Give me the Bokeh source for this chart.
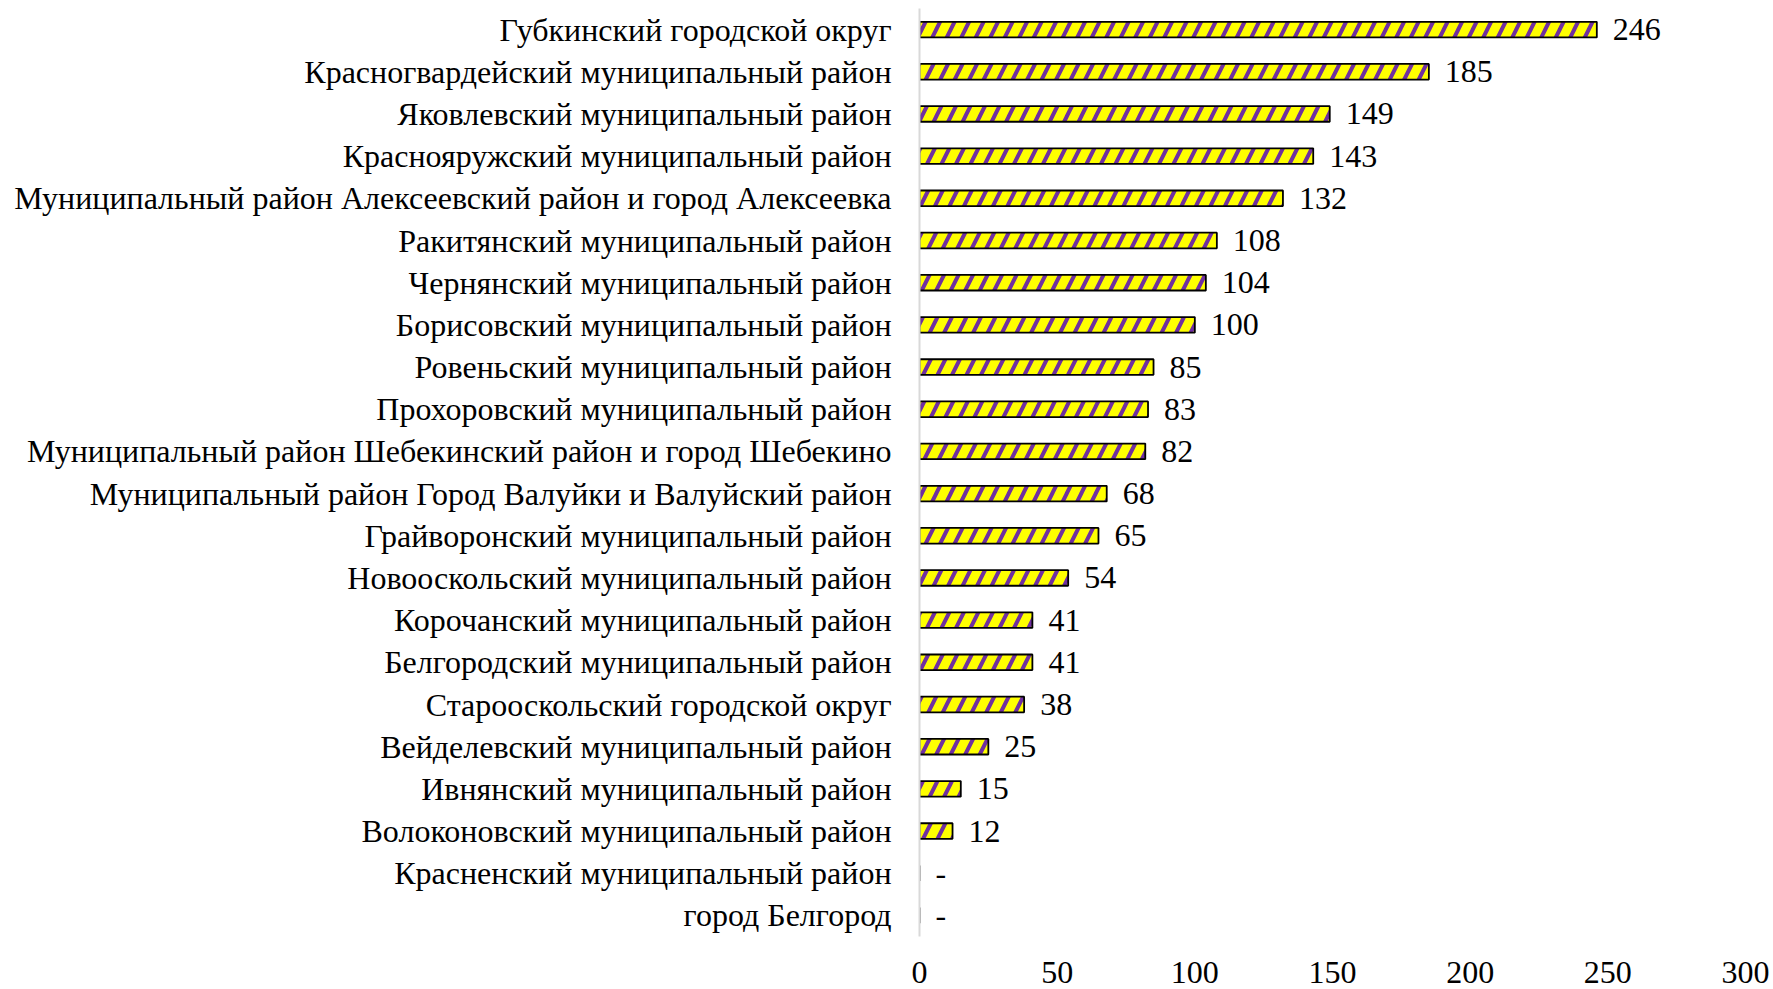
from bokeh.plotting import figure
from bokeh.models import ColumnDataSource, FactorRange, FixedTicker
from bokeh.core.properties import value
from bokeh.embed import file_html
from bokeh.resources import INLINE

districts = [
    "Губкинский городской округ",
    "Красногвардейский муниципальный район",
    "Яковлевский муниципальный район",
    "Краснояружский муниципальный район",
    "Муниципальный район Алексеевский район и город Алексеевка",
    "Ракитянский муниципальный район",
    "Чернянский муниципальный район",
    "Борисовский муниципальный район",
    "Ровеньский муниципальный район",
    "Прохоровский муниципальный район",
    "Муниципальный район Шебекинский район и город Шебекино",
    "Муниципальный район Город Валуйки и Валуйский район",
    "Грайворонский муниципальный район",
    "Новооскольский муниципальный район",
    "Корочанский муниципальный район",
    "Белгородский муниципальный район",
    "Старооскольский городской округ",
    "Вейделевский муниципальный район",
    "Ивнянский муниципальный район",
    "Волоконовский муниципальный район",
    "Красненский муниципальный район",
    "город Белгород",
]
values = [246, 185, 149, 143, 132, 108, 104, 100, 85, 83, 82, 68, 65, 54, 41, 41, 38, 25, 15, 12, 0, 0]
x_ticks = [0, 50, 100, 150, 200, 250, 300]

labels = [str(v) if v > 0 else "-" for v in values]
src = ColumnDataSource(dict(d=districts, v=values, lab=labels))

FONT = "Liberation Serif"
FS = "32px"

p = figure(
    y_range=FactorRange(*list(reversed(districts))),
    x_range=(0, 300),
    width=1773, height=989,
    output_backend="svg", toolbar_location=None,
    min_border_left=919, min_border_right=28, min_border_top=8, min_border_bottom=53,
)
p.hbar(y="d", right="v", left=0, height=0.37, source=src,
       fill_color="#FFFF00", line_color="black", line_width=1.8,
       hatch_pattern="right_diagonal_line", hatch_color="#7030A0",
       hatch_weight=4, hatch_scale=29)
p.text(x="v", y="d", text="lab", source=src, x_offset=16,
       text_baseline="middle", text_align="left",
       text_font=value(FONT), text_font_size=FS, text_color="black")

p.outline_line_color = None
p.grid.grid_line_color = None
p.background_fill_color = "white"

p.xaxis.ticker = FixedTicker(ticks=x_ticks)
p.xaxis.axis_line_color = None
p.xaxis.major_tick_line_color = None
p.xaxis.minor_tick_line_color = None
p.xaxis.major_tick_out = 0
p.xaxis.major_tick_in = 0
p.xaxis.minor_tick_out = 0
p.xaxis.major_label_text_font = FONT
p.xaxis.major_label_text_font_size = FS
p.xaxis.major_label_text_color = "black"
p.xaxis.major_label_standoff = 25

p.yaxis.axis_line_color = "#d9d9d9"
p.yaxis.axis_line_width = 2
p.yaxis.major_tick_line_color = None
p.yaxis.minor_tick_line_color = None
p.yaxis.major_tick_out = 0
p.yaxis.major_tick_in = 0
p.yaxis.major_label_text_font = FONT
p.yaxis.major_label_text_font_size = FS
p.yaxis.major_label_text_color = "black"
p.yaxis.major_label_standoff = 28

open("out.html", "w").write(file_html(p, INLINE))
